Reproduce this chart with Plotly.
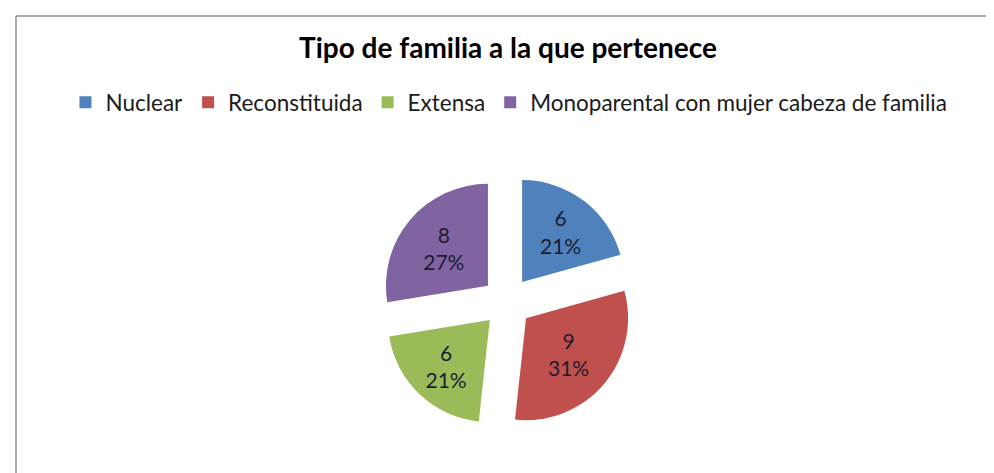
import plotly.graph_objects as go

categories = ["Nuclear", "Reconstituida", "Extensa", "Monoparental con mujer cabeza de familia"]
values = [6, 9, 6, 8]
percent_labels = ["21%", "31%", "21%", "27%"]
colors = ["#4F81BD", "#C0504D", "#9BBB59", "#8064A2"]

W, H = 994, 473

fig = go.Figure(go.Pie(
    labels=categories,
    values=values,
    text=percent_labels,
    texttemplate="%{value}<br>%{text}",
    textinfo="text+value",
    textposition="inside",
    insidetextorientation="horizontal",
    textfont=dict(family="Lato, Calibri, sans-serif", size=21, color="#1c1c30"),
    marker=dict(colors=colors, line=dict(width=0)),
    pull=[0.245] * 4,
    sort=False,
    direction="clockwise",
    rotation=0,
    domain=dict(x=[0.252, 0.752], y=[0.110, 0.647]),
    hoverinfo="label+value+percent",
))

fig.update_layout(
    width=W, height=H,
    margin=dict(l=0, r=0, t=0, b=0),
    paper_bgcolor="white",
    plot_bgcolor="white",
    font=dict(family="Lato, Calibri, sans-serif", color="#000000"),
    title=dict(text="<b>Tipo de familia a la que pertenece</b>",
               x=0.503, xanchor="center", y=0.915, yanchor="middle",
               font=dict(family="Lato, Calibri, sans-serif", size=28, color="#000000")),
    showlegend=True,
    legend=dict(orientation="h", x=0.504, xanchor="center", y=0.80, yanchor="middle",
                font=dict(family="Lato, Calibri, sans-serif", size=22.5, color="#1a1a1a"),
                itemwidth=30, traceorder="normal"),
    shapes=[
        dict(type="line", xref="paper", yref="paper", x0=8 / W, x1=8 / W, y0=0, y1=1 - 8 / H,
             line=dict(color="#8c8c8c", width=1.5)),
        dict(type="line", xref="paper", yref="paper", x0=8 / W, x1=1, y0=1 - 8 / H, y1=1 - 8 / H,
             line=dict(color="#8c8c8c", width=1.5)),
    ],
)

fig.write_html("out.html")
